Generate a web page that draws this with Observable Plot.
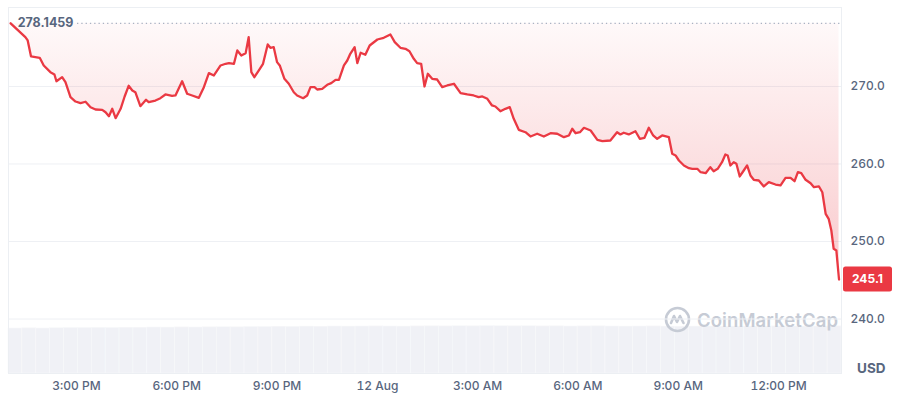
<!DOCTYPE html>
<html>
<head>
<meta charset="utf-8">
<script src="https://cdn.jsdelivr.net/npm/d3@7"></script>
<script src="https://cdn.jsdelivr.net/npm/@observablehq/plot@0.6"></script>
<style>
  html, body { margin: 0; padding: 0; background: #fff; }
  #wrap { position: relative; width: 900px; height: 400px; font-family: Inter, "Noto Sans", sans-serif; }
  #wrap > svg, #wrap > .layer { position: absolute; left: 0; top: 0; }
  #wrap svg g[aria-label^="y-axis"] text, #wrap svg g[aria-label^="x-axis"] text { font-weight: 500; }
  #watermark { position: absolute; left: 664px; top: 306px; display: flex; align-items: center; color: #c6cbd5; font-size: 18.5px; font-weight: 600; letter-spacing: 0.1px; }
  #usd { position: absolute; left: 857px; top: 360px; color: #58667e; font-size: 13.5px; font-weight: 700; }
</style>
</head>
<body>
<div id="wrap"></div>
<script>
// ---- data (hours since 11 Aug 00:00, price in USD) ----
const hours = [
  13.03,13.47,13.54,13.64,13.90,14.02,14.22,14.34,14.40,14.57,
  14.67,14.82,14.97,15.12,15.27,15.42,15.57,15.77,15.87,15.97,
  16.07,16.17,16.32,16.44,16.56,16.67,16.76,16.91,17.08,17.16,
  17.36,17.51,17.66,17.86,17.96,18.16,18.31,18.46,18.66,18.81,
  18.96,19.11,19.31,19.46,19.56,19.71,19.81,19.93,20.06,20.15,
  20.23,20.32,20.45,20.58,20.72,20.80,20.90,21.00,21.08,21.22,
  21.35,21.50,21.60,21.78,21.90,22.00,22.12,22.20,22.35,22.50,
  22.62,22.75,22.85,23.00,23.10,23.18,23.32,23.40,23.50,23.64,
  23.77,24.00,24.19,24.39,24.52,24.69,24.84,24.96,25.09,25.19,
  25.31,25.41,25.51,25.64,25.79,25.94,26.09,26.29,26.49,26.69,
  26.88,27.03,27.14,27.29,27.43,27.53,27.68,27.83,27.96,28.08,
  28.23,28.43,28.58,28.78,28.98,29.18,29.38,29.58,29.73,29.83,
  29.93,30.06,30.18,30.38,30.58,30.73,30.97,31.17,31.27,31.37,
  31.52,31.72,31.85,31.99,32.12,32.25,32.37,32.52,32.72,32.82,
  32.92,33.02,33.17,33.32,33.42,33.57,33.67,33.82,33.96,34.06,
  34.18,34.31,34.41,34.48,34.56,34.66,34.74,34.84,34.96,35.06,
  35.16,35.26,35.41,35.56,35.71,35.91,36.06,36.21,36.36,36.48,
  36.58,36.68,36.81,36.96,37.06,37.21,37.31,37.41,37.50,37.58,
  37.65,37.73,37.81
];
const prices = [
  278.15,276.36,275.94,273.87,273.70,272.71,271.85,271.55,270.68,271.20,
  270.55,268.62,268.06,267.85,268.03,267.33,267.03,266.99,266.68,266.17,
  267.12,265.91,267.12,268.71,270.09,269.48,269.26,267.46,268.28,267.97,
  268.19,268.49,268.97,268.80,268.84,270.68,269.06,268.84,268.54,269.91,
  271.72,271.42,272.71,272.93,273.01,272.93,274.65,274.00,274.30,276.36,
  271.85,271.20,272.06,272.93,275.42,274.99,275.07,273.14,272.71,270.99,
  270.35,269.26,268.84,268.49,268.84,269.91,269.91,269.61,269.70,270.22,
  270.43,270.86,270.86,272.71,273.35,274.13,275.07,273.01,274.35,274.09,
  275.29,276.06,276.28,276.71,275.72,274.99,274.86,274.55,273.57,273.01,
  272.93,270.00,271.64,270.99,270.90,269.91,270.13,270.35,269.14,268.97,
  268.84,268.62,268.71,268.41,267.55,267.42,266.81,267.12,267.33,265.83,
  264.41,264.10,263.55,263.90,263.55,263.97,263.90,263.46,263.68,264.54,
  263.97,264.10,264.67,264.32,263.12,262.94,263.03,264.10,263.81,264.03,
  263.81,264.23,263.25,263.38,264.67,263.68,263.25,263.68,263.46,261.32,
  261.10,260.45,259.81,259.46,259.38,259.38,258.94,258.81,259.59,259.07,
  259.38,260.23,261.23,261.10,259.81,260.23,260.03,258.39,259.16,259.81,
  258.52,257.96,257.87,257.10,257.65,257.35,257.23,258.22,258.22,257.78,
  258.94,258.81,257.96,257.52,257.01,257.10,256.36,253.57,252.93,251.42,
  249.06,248.84,245.10
];
const openPrice = 278.1459;
const lastLabel = "245.1";
const yTicks = [240, 250, 260, 270];
const xTickHours = [15, 18, 21, 24, 27, 30, 33, 36];
const xTickLabels = ["3:00 PM", "6:00 PM", "9:00 PM", "12 Aug", "3:00 AM", "6:00 AM", "9:00 AM", "12:00 PM"];
const domainHours = [12.966, 37.884];
// relative volume bars (read as bar heights)
const volumes = [
  45.0,45.2,45.0,45.3,45.6,45.5,45.7,45.6,45.8,45.8,
  46.0,45.9,46.1,46.0,46.2,46.3,46.2,46.5,46.6,46.8,
  46.7,46.9,46.8,47.0,46.9,47.0,47.1,47.0,46.9,47.1,
  47.2,47.1,47.3,47.2,47.4,47.3,47.2,47.3,47.1,47.2,
  47.0,47.1,47.2,47.0,46.9,47.0,47.1,46.9,46.8,46.9,
  47.0,46.8,46.9,47.0,46.9,47.1,47.0,46.9,47.0,47.1
];

const base = Date.UTC(2024, 7, 11);
const toDate = h => new Date(base + h * 3600000);
const data = hours.map((h, i) => ({t: toDate(h), p: prices[i]}));
const labelByTime = new Map(xTickHours.map((h, i) => [toDate(h).getTime(), xTickLabels[i]]));
const step = (domainHours[1] - domainHours[0]) / volumes.length;
const volData = volumes.map((v, i) => ({
  t1: toDate(domainHours[0] + i * step),
  t2: toDate(domainHours[0] + (i + 1) * step),
  v
}));

const W = 900, H = 400, ML = 8, MR = 59, MT = 7, MB = 27;
const xDomain = domainHours.map(toDate);

// volume layer (own scale)
const vol = Plot.plot({
  width: W, height: H, marginLeft: ML, marginRight: MR, marginTop: 325, marginBottom: MB,
  style: {background: "transparent"},
  x: {type: "utc", domain: xDomain, axis: null},
  y: {domain: [0, 48], axis: null},
  marks: [
    Plot.rectY(volData, {x1: "t1", x2: "t2", y: "v", fill: "#f0f1f6", stroke: "#f7f8fa", strokeWidth: 0.6})
  ]
});

const plot = Plot.plot({
  width: W, height: H, marginLeft: ML, marginRight: MR, marginTop: MT, marginBottom: MB,
  style: {background: "transparent", fontFamily: "Inter, 'Noto Sans', sans-serif", fontSize: "12px", color: "#58667e"},
  x: {type: "utc", domain: xDomain, label: null},
  y: {domain: [232.97, 280.19], label: null},
  marks: [
    Plot.ruleY(yTicks, {stroke: "#eef0f4"}),
    Plot.frame({stroke: "#eceff3"}),
    Plot.areaY(data, {x: "t", y1: openPrice, y2: "p", fill: "url(#priceFill)"}),
    Plot.ruleY([openPrice], {stroke: "#a9b2c3", strokeWidth: 1.3, strokeDasharray: "1.3,3", insetLeft: 69}),
    Plot.lineY(data, {x: "t", y: "p", stroke: "#ea3943", strokeWidth: 2.3}),
    Plot.text([openPrice], {x: () => data[0].t, y: d => d, text: d => d.toFixed(4), textAnchor: "start", dx: 7, fill: "#58667e", fontSize: 12.5, fontWeight: 700}),
    Plot.axisY({anchor: "right", ticks: yTicks, tickSize: 0, tickPadding: 9, tickFormat: d => d.toFixed(1), label: null}),
    Plot.axisX({ticks: xTickHours.map(toDate), tickSize: 0, tickPadding: 8, tickFormat: d => labelByTime.get(d.getTime()), label: null})
  ]
});

// gradient for the area
const svg = d3.select(plot.tagName.toLowerCase() === "svg" ? plot : plot.querySelector("svg"));
const defs = svg.insert("defs", ":first-child");
const grad = defs.append("linearGradient").attr("id", "priceFill").attr("x1", 0).attr("y1", 0).attr("x2", 0).attr("y2", 1);
grad.append("stop").attr("offset", "0%").attr("stop-color", "#ea3943").attr("stop-opacity", 0.03);
grad.append("stop").attr("offset", "100%").attr("stop-color", "#ea3943").attr("stop-opacity", 0.27);

// last price tag placed with the plot's y scale
const yLast = plot.scale("y").apply(prices[prices.length - 1]);
const tagX = W - MR + 2;
svg.append("rect").attr("x", tagX).attr("y", yLast - 12.5).attr("width", 49).attr("height", 25).attr("rx", 2.5).attr("fill", "#ea3943");
svg.append("text").attr("x", tagX + 24.5).attr("y", yLast).attr("text-anchor", "middle").attr("dominant-baseline", "central")
  .attr("fill", "#fff").attr("font-size", 12).style("font-weight", 700).text(lastLabel);

const wrap = document.getElementById("wrap");
wrap.appendChild(vol);
const wm = document.createElement("div");
wm.id = "watermark";
wm.innerHTML = '<svg width="27" height="27" viewBox="0 0 27 27" style="margin-right:6px"><circle cx="13.5" cy="13.5" r="11.5" fill="none" stroke="#c6cbd5" stroke-width="2.6"/><path d="M7 17 L10 10 L13 16 L16 10 L19.5 17" fill="none" stroke="#c6cbd5" stroke-width="2.6" stroke-linecap="round" stroke-linejoin="round"/></svg><span>CoinMarketCap</span>';
wrap.appendChild(wm);
wrap.appendChild(plot);
const usd = document.createElement("div");
usd.id = "usd";
usd.textContent = "USD";
wrap.appendChild(usd);
</script>
</body>
</html>
